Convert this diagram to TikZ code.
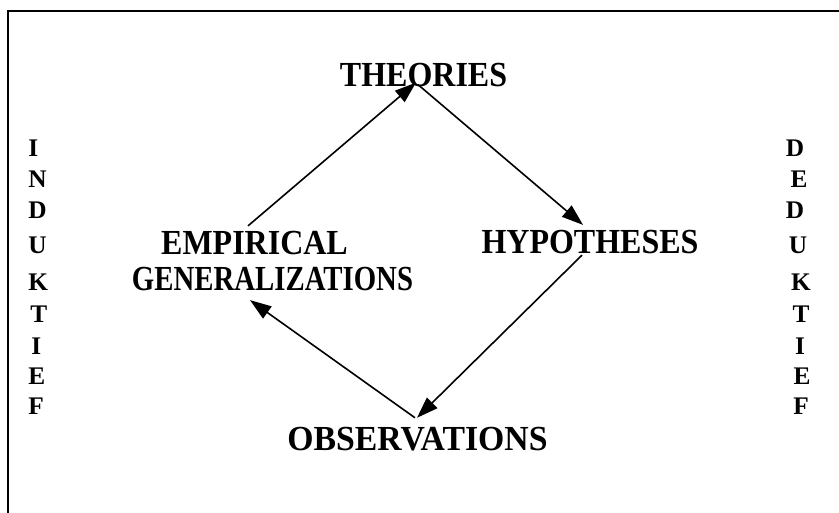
\documentclass[tikz,border=0pt]{standalone}
\usepackage{fontspec}
\setmainfont{Liberation Serif}
\usetikzlibrary{arrows.meta,calc}

\begin{document}
\begin{tikzpicture}[
    x=0.75pt, y=-0.75pt,
    term/.style={font=\fontsize{24}{28}\selectfont\bfseries, inner sep=0pt, yscale=1.1, transform shape},
    letter/.style={font=\fontsize{19}{22}\selectfont\bfseries, inner sep=0pt},
    arrow/.style={-{Triangle[length=16pt, width=11pt]}, line width=1.2pt}
]
\useasboundingbox (0,0) rectangle (839,512);
\draw[line width=1.5pt] (8,11) rectangle (870,540);

\node[term] (theo) at (423.5,75.5) {THEORIES};
\node[term] (emp)  at (254.5,243)  {EMPIRICAL};
\node[term, xscale=0.9] (gen) at (272.5,279) {GENERALIZATIONS};
\node[term] (hyp)  at (590,242)    {HYPOTHESES};
\node[term, xscale=1.055] (obs) at (417.5,439) {OBSERVATIONS};

\draw[arrow] ($(emp.north)+(-6.5,-5)$) -- ($(theo.south)+(-7.5,-5)$);
\draw[arrow] ($(theo.south)+(-5.5,-3)$) -- ($(hyp.north)+(-7,-5)$);
\draw[arrow] ($(hyp.south)+(-8,1)$) -- ($(obs.north)+(-0.5,-9)$);
\draw[arrow] ($(obs.north)+(-2.5,-9)$) -- ($(gen.south)+(-22.5,9)$);

% Left column
\node[letter, anchor=west] (ind1) at (28,148) {I};
\node[letter, anchor=west] (ind2) at (28,179) {N};
\node[letter, anchor=west] (ind3) at (28,210) {D};
\node[letter, anchor=west] (ind4) at (28,245) {U};
\node[letter, anchor=west] (ind5) at (28,282) {K};
\node[letter, anchor=west] (ind6) at (30,314) {T};
\node[letter, anchor=west] (ind7) at (31,346) {I};
\node[letter, anchor=west] (ind8) at (28,376) {E};
\node[letter, anchor=west] (ind9) at (28,406) {F};

% Right column
\node[letter] (ded1) at (795,148) {D};
\node[letter] (ded2) at (799,179) {E};
\node[letter] (ded3) at (795,210) {D};
\node[letter] (ded4) at (798,245) {U};
\node[letter] (ded5) at (801,282) {K};
\node[letter] (ded6) at (801,314) {T};
\node[letter] (ded7) at (800,346) {I};
\node[letter] (ded8) at (802,376) {E};
\node[letter] (ded9) at (801,406) {F};

\end{tikzpicture}
\end{document}
